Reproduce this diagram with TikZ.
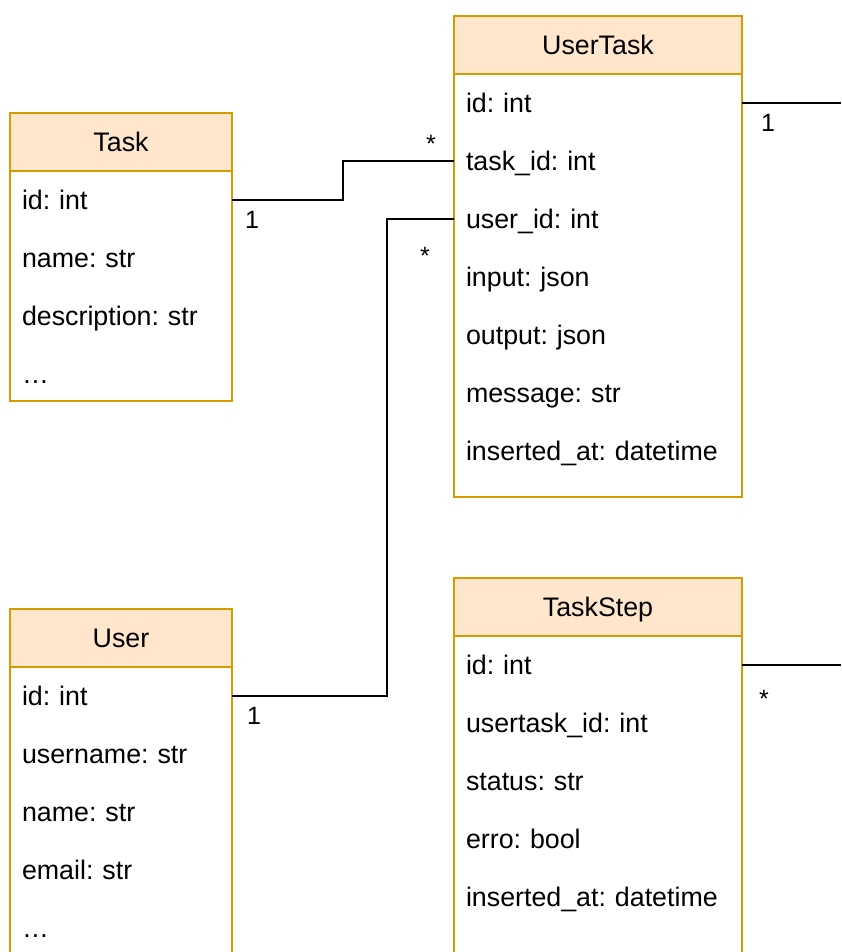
\documentclass[tikz,border=0pt]{standalone}
\usepackage{fontspec}
\setmainfont{Liberation Sans}
\usepackage{xcolor}
\definecolor{boxfill}{HTML}{FFE6CC}
\definecolor{boxline}{HTML}{D79B00}
\frenchspacing
\tikzset{
  hdr/.style={draw=boxline, fill=boxfill, line width=2pt, anchor=north west,
    minimum width=#1, minimum height=58pt, inner sep=0pt, outer sep=0pt,
    text height=19pt, text depth=0pt},
  row/.style={anchor=north west, text width=#1, align=left, minimum height=58pt,
    inner xsep=12pt, inner ysep=0pt, outer sep=0pt, text height=19pt, text depth=0pt},
  body/.style={draw=boxline, fill=white, line width=2pt},
  conn/.style={line width=2.6pt},
  lbl/.style={anchor=base, inner sep=0pt, font=\fontsize{25}{30}\selectfont}
}

\begin{document}
\begin{tikzpicture}[x=1pt, y=-1pt, font=\fontsize{26.8}{32}\selectfont]
        \useasboundingbox (0,0) rectangle (841,952);
        % Task
        \draw [body] (10,171) rectangle (232,401);
        \node [hdr=222pt] (task) at (10,113) {Task};
        \foreach \txt [count=\i] in {id: int, name: str, description: str, {\ldots}}
            \node [row=198pt] (task-\i) at (10,{171+58*(\i-1)}) {\txt};
        % UserTask
        \draw [body] (454,74) rectangle (742,497);
        \node [hdr=288pt] (ut) at (454,16) {UserTask};
        \foreach \txt [count=\i] in {id: int, task\_id: int, user\_id: int, input: json,
            output: json, message: str, inserted\_at: datetime}
            \node [row=264pt] (ut-\i) at (454,{74+58*(\i-1)}) {\txt};
        % User
        \draw [body] (10,667) rectangle (232,980);
        \node [hdr=222pt] (user) at (10,609) {User};
        \foreach \txt [count=\i] in {id: int, username: str, name: str, email: str, {\ldots}}
            \node [row=198pt] (user-\i) at (10,{667+58*(\i-1)}) {\txt};
        % TaskStep
        \draw [body] (454,636) rectangle (742,980);
        \node [hdr=288pt] (ts) at (454,578) {TaskStep};
        \foreach \txt [count=\i] in {id: int, usertask\_id: int, status: str, erro: bool,
            inserted\_at: datetime}
            \node [row=264pt] (ts-\i) at (454,{636+58*(\i-1)}) {\txt};

        % relations
        \coordinate (ut-out) at (841,103);
        \coordinate (ts-out) at (841,665);
        \draw [conn] (task-1.east) -- ++(111,0) |- (ut-2.west);
        \draw [conn] (user-1.east) -- ++(155,0) |- (ut-3.west);
        \draw [conn] (ut-1.east) -- (ut-out);
        \draw [conn] (ts-1.east) -- (ts-out);
        \node [lbl] (m1) at ([shift={(20,28.5)}]task-1.east) {1};
        \node [lbl] (m2) at ([shift={(-23,-8)}]ut-2.west) {*};
        \node [lbl] (m3) at ([shift={(22,28.5)}]user-1.east) {1};
        \node [lbl] (m4) at ([shift={(-29,45)}]ut-3.west) {*};
        \node [lbl] (m5) at ([shift={(26,28.5)}]ut-1.east) {1};
        \node [lbl] (m6) at ([shift={(22,42)}]ts-1.east) {*};
\end{tikzpicture}
\end{document}
